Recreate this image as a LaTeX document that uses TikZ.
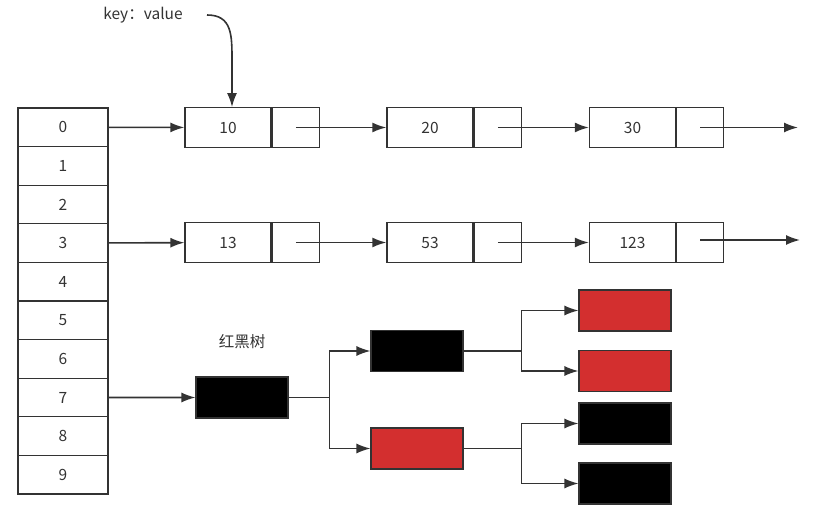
\documentclass[tikz,border=0pt]{standalone}
\usepackage{fontspec}
\setmainfont{Noto Sans CJK SC}
\usetikzlibrary{arrows.meta}
\definecolor{ln}{RGB}{51,51,51}
\definecolor{rbred}{RGB}{211,47,47}
\tikzset{
  cell/.style={draw=ln, line width=1.3pt, minimum width=90pt, minimum height=38.6pt, inner sep=0pt},
  keycell/.style={cell, minimum width=86pt, minimum height=39.5pt},
  ptrcell/.style={cell, minimum width=47pt, minimum height=39.5pt},
  rbnode/.style={draw=ln, line width=1.1pt, minimum width=92pt, minimum height=41pt, inner sep=0pt},
  link/.style={->, draw=ln, line width=1.6pt},
}
\begin{document}
\begin{tikzpicture}[x=1pt, y=1pt, >={Latex[length=14pt,width=10pt]}, color=ln,
    font=\fontsize{15.5}{18}\selectfont]
\useasboundingbox (0,0) rectangle (828,-518);
% table
\foreach \i in {0,...,9}
  \node[cell] (a\i) at (63,-127.3-38.6*\i) {\i};
% linked lists
\foreach \v/\x in {10/228,20/430,30/632.5}{
  \node[keycell] (k\v) at (\x,-127.5) {\v};
  \node[ptrcell, anchor=west] (p\v) at (k\v.east) {};
}
\foreach \v/\x in {13/228,53/430,123/632.5}{
  \node[keycell] (k\v) at (\x,-242.5) {\v};
  \node[ptrcell, anchor=west] (p\v) at (k\v.east) {};
}
\coordinate (end1) at (798,-127.5);
\coordinate (end2) at (800,-240);
\draw[link] (a0) -- (k10);
\draw[link] (p10.center) -- (k20);
\draw[link] (p20.center) -- (k30);
\draw[link] (p30.center) -- (end1);
\draw[link] (a3) -- (k13);
\draw[link] (p13.center) -- (k53);
\draw[link] (p53.center) -- (k123);
\draw[link] ([yshift=2.5pt]p123.center) -- (end2);
% key:value
\node (kv) at (143,-15) {key：value};
\coordinate (kvtail) at (207,-15);
\draw[link] (kvtail) .. controls (232,-15) and (232,-35) .. (232,-60) -- ([xshift=4pt]k10.north);
% red black tree
\node (rbt) at (242,-342) {红黑树};
\node[rbnode, fill=black] (root) at (242,-397.5) {};
\node[rbnode, fill=black] (b1) at (417,-351) {};
\node[rbnode, fill=rbred] (r1) at (417,-448.5) {};
\node[rbnode, fill=rbred] (l1) at (625,-310.5) {};
\node[rbnode, fill=rbred] (l2) at (625,-371) {};
\node[rbnode, fill=black] (l3) at (625,-423.5) {};
\node[rbnode, fill=black] (l4) at (625,-483.5) {};
\draw[link] (a7) -- (root);
\draw[link] (root.east) -- ++(41,0) |- (b1);
\draw[link] (root.east) -- ++(41,0) |- (r1);
\draw[link] (b1.east) -- ++(58,0) |- (l1);
\draw[link] (b1.east) -- ++(58,0) |- (l2);
\draw[link] (r1.east) -- ++(58,0) |- (l3);
\draw[link] (r1.east) -- ++(58,0) |- (l4);
\end{tikzpicture}
\end{document}
